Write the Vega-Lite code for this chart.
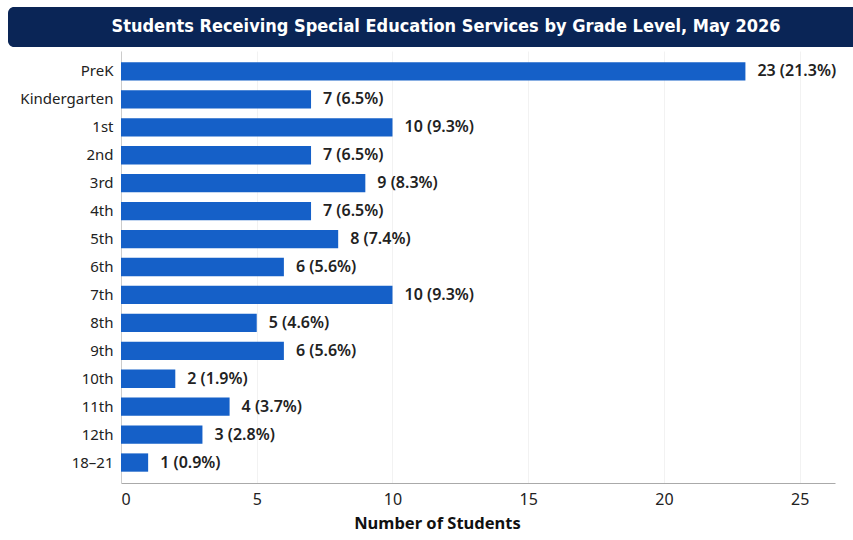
{
  "$schema": "https://vega.github.io/schema/vega-lite/v6.json",
  "padding": {"left": 8, "top": 7, "right": 0, "bottom": 0},
  "background": "#ffffff",
  "columns": 1,
  "bounds": "flush",
  "center": true,
  "spacing": 4,
  "config": {
    "font": "Noto Sans",
    "view": {"stroke": null}
  },
  "concat": [
    {
      "width": 940,
      "height": 40,
      "view": {"fill": "#0a2556", "stroke": null, "cornerRadius": 6},
      "data": {"values": [{"title": "Students Receiving Special Education Services by Grade Level, May 2026"}]},
      "mark": {"type": "text", "color": "#ffffff", "fontSize": 18, "fontWeight": "bold", "font": "DejaVu Sans Condensed, Roboto", "align": "center", "baseline": "middle", "dx": -32},
      "encoding": {"text": {"field": "title"}}
    },
    {
      "width": 714,
      "height": 432,
      "data": {"values": [
        {"grade": "PreK", "students": 23, "label": "23 (21.3%)"},
        {"grade": "Kindergarten", "students": 7, "label": "7 (6.5%)"},
        {"grade": "1st", "students": 10, "label": "10 (9.3%)"},
        {"grade": "2nd", "students": 7, "label": "7 (6.5%)"},
        {"grade": "3rd", "students": 9, "label": "9 (8.3%)"},
        {"grade": "4th", "students": 7, "label": "7 (6.5%)"},
        {"grade": "5th", "students": 8, "label": "8 (7.4%)"},
        {"grade": "6th", "students": 6, "label": "6 (5.6%)"},
        {"grade": "7th", "students": 10, "label": "10 (9.3%)"},
        {"grade": "8th", "students": 5, "label": "5 (4.6%)"},
        {"grade": "9th", "students": 6, "label": "6 (5.6%)"},
        {"grade": "10th", "students": 2, "label": "2 (1.9%)"},
        {"grade": "11th", "students": 4, "label": "4 (3.7%)"},
        {"grade": "12th", "students": 3, "label": "3 (2.8%)"},
        {"grade": "18–21", "students": 1, "label": "1 (0.9%)"}
      ]},
      "encoding": {
        "y": {
          "field": "grade",
          "type": "nominal",
          "sort": null,
          "scale": {"paddingInner": 0.345, "paddingOuter": 0.405},
          "axis": {
            "title": null,
            "ticks": false,
            "domain": true,
            "domainColor": "#cccccc",
            "labelFontSize": 15,
            "labelColor": "#222222",
            "labelPadding": 8,
            "grid": false
          }
        },
        "x": {
          "field": "students",
          "type": "quantitative",
          "scale": {"domain": [0, 26.3], "nice": false},
          "axis": {
            "title": "Number of Students",
            "titleFontSize": 16.5,
            "titleFontWeight": "bold",
            "titleColor": "#111111",
            "titlePadding": 8,
            "titleX": 316,
            "titleAlign": "center",
            "values": [0, 5, 10, 15, 20, 25],
            "ticks": false,
            "domainColor": "#aaaaaa",
            "labelFontSize": 16,
            "labelColor": "#222222",
            "labelPadding": 8,
            "gridColor": "#f2f2f2",
            "grid": true
          }
        }
      },
      "layer": [
        {"mark": {"type": "bar", "color": "#1560c8"}},
        {
          "mark": {"type": "text", "align": "left", "baseline": "middle", "dx": 12, "fontSize": 16, "fontWeight": 600, "color": "#222222"},
          "encoding": {"text": {"field": "label"}}
        }
      ]
    }
  ]
}
